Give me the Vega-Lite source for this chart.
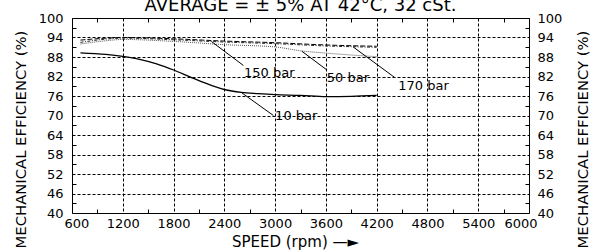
{
  "$schema": "https://vega.github.io/schema/vega-lite/v6.json",
  "width": 457,
  "height": 195,
  "autosize": {"type": "none"},
  "padding": {"left": 72, "top": 18, "right": 75, "bottom": 37},
  "background": "white",
  "config": {
    "view": {"stroke": "black", "strokeWidth": 1},
    "font": "DejaVu Sans",
    "axis": {
      "labelFont": "DejaVu Sans", "titleFont": "DejaVu Sans",
      "labelColor": "black", "titleColor": "black", "titleFontWeight": "normal",
      "labelFontSize": 13, "titleFontSize": 15,
      "domain": false, "grid": false, "labelOverlap": false, "labelBound": false,
      "tickColor": "black", "tickWidth": 1
    }
  },
  "title": {
    "text": "AVERAGE = ± 5% AT 42°C, 32 cSt.",
    "fontSize": 18, "font": "DejaVu Sans", "fontWeight": "normal", "color": "black",
    "anchor": "middle", "baseline": "alphabetic", "offset": 0, "dy": 17, "frame": "group"
  },
  "datasets": {
    "curves": [
      {"series": "170 bar", "rpm": 700, "eff": 93.2},
      {"series": "170 bar", "rpm": 1000, "eff": 93.8},
      {"series": "170 bar", "rpm": 1200, "eff": 94.0},
      {"series": "170 bar", "rpm": 1800, "eff": 93.6},
      {"series": "170 bar", "rpm": 2400, "eff": 92.9},
      {"series": "170 bar", "rpm": 3000, "eff": 92.4},
      {"series": "170 bar", "rpm": 3600, "eff": 91.7},
      {"series": "170 bar", "rpm": 4200, "eff": 91.3},
      {"series": "150 bar", "rpm": 700, "eff": 92.5},
      {"series": "150 bar", "rpm": 1000, "eff": 93.5},
      {"series": "150 bar", "rpm": 1200, "eff": 93.8},
      {"series": "150 bar", "rpm": 1800, "eff": 93.3},
      {"series": "150 bar", "rpm": 2400, "eff": 92.6},
      {"series": "150 bar", "rpm": 3000, "eff": 92.1},
      {"series": "150 bar", "rpm": 3600, "eff": 91.4},
      {"series": "150 bar", "rpm": 4200, "eff": 91.0},
      {"series": "50 bar", "rpm": 700, "eff": 92.0},
      {"series": "50 bar", "rpm": 1000, "eff": 93.0},
      {"series": "50 bar", "rpm": 1200, "eff": 93.4},
      {"series": "50 bar", "rpm": 1800, "eff": 92.8},
      {"series": "50 bar", "rpm": 2400, "eff": 91.8},
      {"series": "50 bar", "rpm": 3000, "eff": 91.1},
      {"series": "50 bar", "rpm": 3300, "eff": 89.9},
      {"series": "50 bar", "rpm": 3600, "eff": 89.2},
      {"series": "50 bar", "rpm": 4200, "eff": 88.1}
    ],
    "low": [
      {"series": "10 bar", "rpm": 700, "eff": 89.3},
      {"series": "10 bar", "rpm": 1000, "eff": 88.8},
      {"series": "10 bar", "rpm": 1200, "eff": 88.2},
      {"series": "10 bar", "rpm": 1400, "eff": 87.3},
      {"series": "10 bar", "rpm": 1600, "eff": 85.9},
      {"series": "10 bar", "rpm": 1800, "eff": 84.0},
      {"series": "10 bar", "rpm": 2000, "eff": 81.8},
      {"series": "10 bar", "rpm": 2200, "eff": 79.7},
      {"series": "10 bar", "rpm": 2400, "eff": 78.0},
      {"series": "10 bar", "rpm": 2600, "eff": 77.1},
      {"series": "10 bar", "rpm": 2800, "eff": 76.7},
      {"series": "10 bar", "rpm": 3000, "eff": 76.4},
      {"series": "10 bar", "rpm": 3300, "eff": 76.2},
      {"series": "10 bar", "rpm": 3600, "eff": 75.8},
      {"series": "10 bar", "rpm": 3900, "eff": 75.9},
      {"series": "10 bar", "rpm": 4200, "eff": 76.2}
    ],
    "leaders": [
      {"label": "150 bar", "rpm": 2251, "eff": 92.7, "rpm2": 2625, "eff2": 85.4},
      {"label": "50 bar", "rpm": 3315, "eff": 89.8, "rpm2": 3602, "eff2": 84.2},
      {"label": "170 bar", "rpm": 3922, "eff": 91.1, "rpm2": 4418, "eff2": 81.6},
      {"label": "10 bar", "rpm": 2605, "eff": 77.0, "rpm2": 2980, "eff2": 70.0}
    ],
    "labels": [
      {"label": "150 bar", "rpm": 2632, "eff": 83.0},
      {"label": "50 bar", "rpm": 3610, "eff": 81.5},
      {"label": "170 bar", "rpm": 4456, "eff": 79.1},
      {"label": "10 bar", "rpm": 3000, "eff": 69.7}
    ]
  },
  "layer": [
    {
      "data": {"name": "curves"},
      "mark": {"type": "line", "interpolate": "monotone", "strokeWidth": 1},
      "encoding": {
        "x": {"field": "rpm", "type": "quantitative",
          "scale": {"domain": [600, 6000], "nice": false, "zero": false},
          "axis": {"orient": "bottom", "values": [600, 1200, 1800, 2400, 3000, 3600, 4200, 4800, 5400, 6000],
            "format": "d",
            "grid": true, "gridDash": [3, 2], "gridColor": "black", "gridOpacity": 1, "gridWidth": 1,
            "ticks": false, "tickSize": 0, "labelPadding": 4, "labelFlush": true, "labelFlushOffset": 8,
            "title": "SPEED  (rpm) —►", "titleY": 33, "titleBaseline": "alphabetic", "titleX": 223}},
        "y": {"field": "eff", "type": "quantitative",
          "scale": {"domain": [40, 100], "nice": false, "zero": false},
          "axis": {"orient": "left", "values": [40, 46, 52, 58, 64, 70, 76, 82, 88, 94, 100],
            "grid": true, "gridDash": [3, 2], "gridColor": "black", "gridOpacity": 1, "gridWidth": 1,
            "ticks": false, "tickSize": 0, "labelPadding": 9,
            "title": "MECHANICAL EFFICIENCY (%)", "titleFontSize": 14.8,
            "titleX": -51, "titleY": 121, "titleAngle": -90,
            "titleAlign": "center", "titleBaseline": "middle"}},
        "detail": {"field": "series"},
        "strokeDash": {"field": "series", "type": "nominal",
          "scale": {"domain": ["170 bar", "150 bar", "50 bar"], "range": [[5, 2], [3, 1.5, 1, 1.5], [1, 1]]},
          "legend": null},
        "color": {"field": "series", "type": "nominal",
          "scale": {"domain": ["170 bar", "150 bar", "50 bar"], "range": ["#000000", "#222222", "#555555"]},
          "legend": null}
      }
    },
    {
      "data": {"name": "leaders"},
      "mark": {"type": "rule", "color": "black", "strokeWidth": 1},
      "encoding": {
        "x": {"field": "rpm", "type": "quantitative",
          "scale": {"domain": [600, 6000], "nice": false, "zero": false},
          "axis": {"orient": "top", "values": [900, 1500, 2100, 2700, 3300, 3900, 4500, 5100, 5700],
            "labels": false, "ticks": true, "tickSize": -4, "grid": false, "title": null}},
        "y": {"field": "eff", "type": "quantitative",
          "scale": {"domain": [40, 100], "nice": false, "zero": false},
          "axis": {"orient": "right", "values": [40, 46, 52, 58, 64, 70, 76, 82, 88, 94, 100],
            "ticks": false, "tickSize": 0, "labelPadding": 8, "grid": false,
            "title": "MECHANICAL EFFICIENCY (%)", "titleFontSize": 14.8,
            "titleX": 54, "titleY": 121, "titleAngle": -90,
            "titleAlign": "center", "titleBaseline": "middle"}},
        "x2": {"field": "rpm2"},
        "y2": {"field": "eff2"}
      }
    },
    {
      "data": {"name": "labels"},
      "mark": {"type": "text", "align": "left", "baseline": "middle", "fontSize": 13, "font": "DejaVu Sans", "color": "black"},
      "encoding": {
        "x": {"field": "rpm", "type": "quantitative",
          "scale": {"domain": [600, 6000], "nice": false, "zero": false},
          "axis": {"orient": "bottom", "values": [900, 1500, 2100, 2700, 3300, 3900, 4500, 5100, 5700],
            "labels": false, "ticks": true, "tickSize": -4, "grid": false, "title": null}},
        "y": {"field": "eff", "type": "quantitative",
          "scale": {"domain": [40, 100], "nice": false, "zero": false},
          "axis": {"orient": "left", "values": [43, 49, 55, 61, 67, 73, 79, 85, 91, 97],
            "labels": false, "ticks": true, "tickSize": -4, "grid": false, "title": null}},
        "text": {"field": "label"}
      }
    },
    {
      "data": {"name": "low"},
      "mark": {"type": "line", "interpolate": "monotone", "strokeWidth": 1.3, "color": "black"},
      "encoding": {
        "x": {"field": "rpm", "type": "quantitative",
          "scale": {"domain": [600, 6000], "nice": false, "zero": false},
          "axis": null},
        "y": {"field": "eff", "type": "quantitative",
          "scale": {"domain": [40, 100], "nice": false, "zero": false},
          "axis": {"orient": "right", "values": [43, 49, 55, 61, 67, 73, 79, 85, 91, 97],
            "labels": false, "ticks": true, "tickSize": -4, "grid": false, "title": null}}
      }
    }
  ],
  "resolve": {
    "scale": {"x": "independent", "y": "independent"},
    "axis": {"x": "independent", "y": "independent"}
  }
}
